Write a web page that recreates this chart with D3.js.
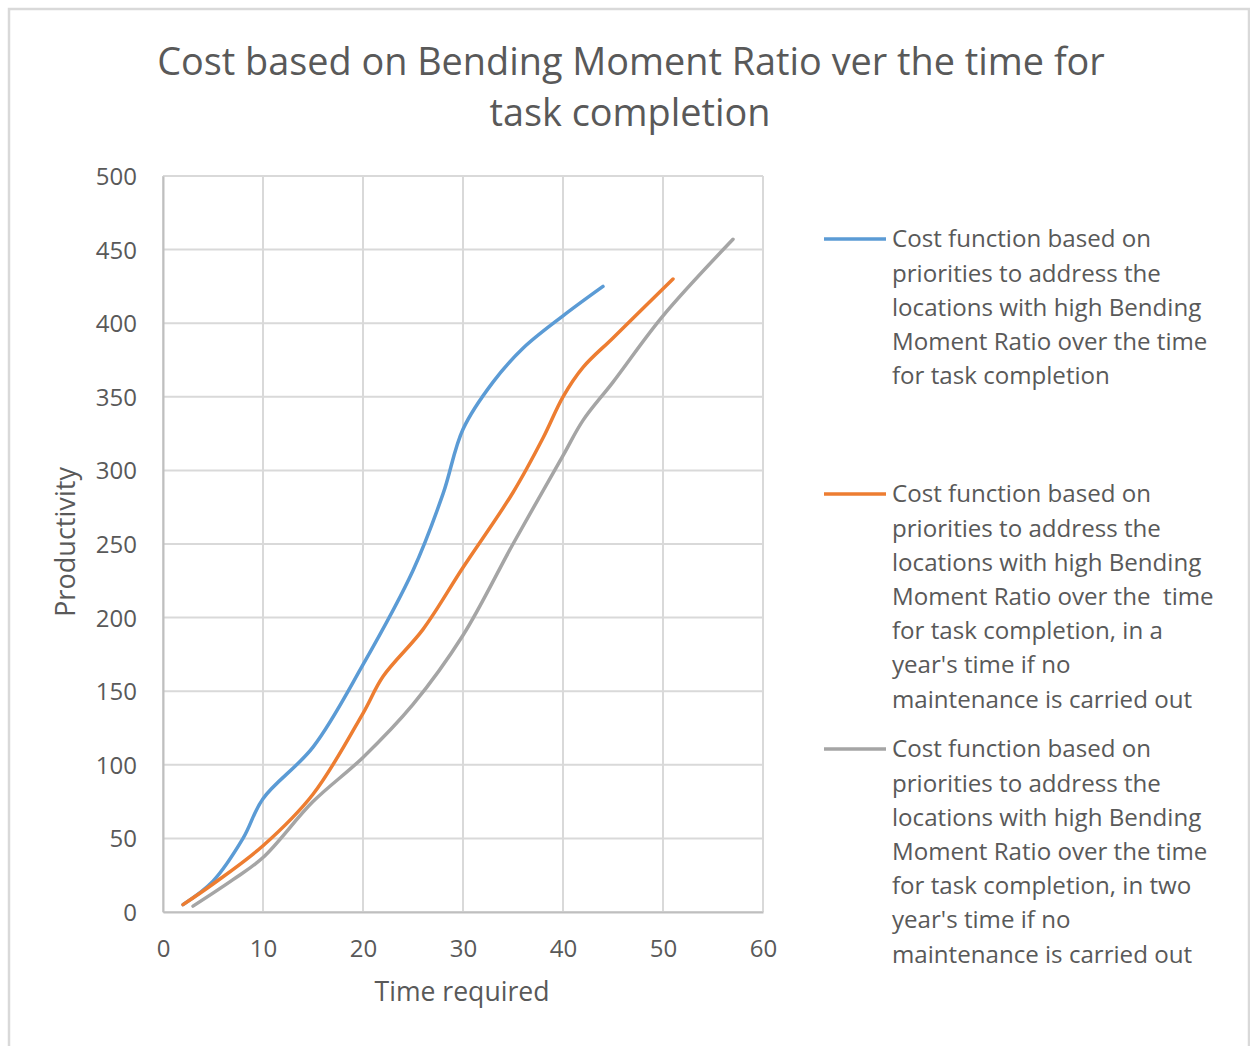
<!DOCTYPE html>
<html>
<head>
<meta charset="utf-8">
<script src="https://cdn.jsdelivr.net/npm/d3@7"></script>
<style>
  html, body { margin: 0; padding: 0; background: #fff; }
  svg { display: block; font-family: "Open Sans", "Noto Sans", sans-serif; }
</style>
</head>
<body>
<svg id="chart" width="1250" height="1046"></svg>
<script>
// Series: [time required, productivity]
const seriesNow = [
  [2, 5], [5, 21], [8, 50], [10, 77], [15, 112], [20, 168], [25, 232],
  [28, 284], [30, 328], [33, 360], [36, 383], [40, 405], [44, 425]
];
const seriesOneYear = [
  [2, 5], [5, 19], [10, 45], [15, 80], [20, 135], [22, 160], [26, 192],
  [30, 234], [35, 285], [38, 322], [40, 350], [42, 370], [45, 390], [51, 430]
];
const seriesTwoYears = [
  [3, 4], [7, 22], [10, 37], [15, 75], [20, 105], [25, 141], [30, 188],
  [35, 250], [40, 310], [42, 334], [45, 360], [50, 405], [57, 457]
];
const xTicks = [0, 10, 20, 30, 40, 50, 60];
const yTicks = [0, 50, 100, 150, 200, 250, 300, 350, 400, 450, 500];

const titleLines = ["Cost based on Bending Moment Ratio ver the time for", "task completion"];
const xTitle = "Time required";
const yTitle = "Productivity";

const legendEntries = [
  { lines: ["Cost function based on", "priorities to address the", "locations with high Bending",
            "Moment Ratio over the time", "for task completion"] },
  { lines: ["Cost function based on", "priorities to address the", "locations with high Bending",
            "Moment Ratio over the  time", "for task completion, in a", "year's time if no",
            "maintenance is carried out"] },
  { lines: ["Cost function based on", "priorities to address the", "locations with high Bending",
            "Moment Ratio over the time", "for task completion, in two", "year's time if no",
            "maintenance is carried out"] }
];

const seriesList = [seriesNow, seriesOneYear, seriesTwoYears];
const colors = ["#5b9bd5", "#ed7d31", "#a5a5a5"];
const textColor = "#595959";
const gridColor = "#d9d9d9";

const svg = d3.select("#chart");

// Outer chart frame (runs past the bottom and right edges)
svg.append("rect")
  .attr("x", 9).attr("y", 9).attr("width", 1240).attr("height", 1060)
  .attr("fill", "none").attr("stroke", "#d9d9d9").attr("stroke-width", 2.5);

const plot = { left: 163, right: 763, top: 176, bottom: 912 };
const x = d3.scaleLinear().domain([0, 60]).range([plot.left, plot.right]);
const y = d3.scaleLinear().domain([0, 500]).range([plot.bottom, plot.top]);

// Scale a text's font size so its rendered width equals target
function fitWidth(sel, target) {
  const node = sel.node();
  const fs = parseFloat(sel.attr("font-size"));
  const w = node.getComputedTextLength();
  const nf = fs * target / w;
  sel.attr("font-size", nf);
  return nf;
}

// Title
const t1 = svg.append("text").attr("x", 631).attr("y", 75)
  .attr("text-anchor", "middle").attr("fill", textColor).attr("font-size", 34)
  .text(titleLines[0]);
const titleSize = fitWidth(t1, 948);
svg.append("text").attr("x", 630).attr("y", 126)
  .attr("text-anchor", "middle").attr("fill", textColor).attr("font-size", titleSize)
  .text(titleLines[1]);

// Gridlines
const grid = svg.append("g");
grid.selectAll("line.h").data(yTicks).join("line")
  .attr("x1", plot.left).attr("x2", plot.right)
  .attr("y1", d => y(d)).attr("y2", d => y(d))
  .attr("stroke", gridColor).attr("stroke-width", 2);
grid.selectAll("line.v").data(xTicks).join("line")
  .attr("y1", plot.top).attr("y2", plot.bottom)
  .attr("x1", d => x(d)).attr("x2", d => x(d))
  .attr("stroke", gridColor).attr("stroke-width", 2);

// Axes
const xAxis = svg.append("g").attr("transform", `translate(0,${plot.bottom})`)
  .call(d3.axisBottom(x).tickValues(xTicks).tickSize(0).tickPadding(0));
xAxis.select(".domain").attr("stroke", "#bfbfbf").attr("stroke-width", 2);
xAxis.selectAll("text").attr("fill", textColor).attr("font-size", 24)
  .attr("font-family", "\"Open Sans\", sans-serif")
  .attr("dy", null).attr("y", 45);

const yAxis = svg.append("g").attr("transform", `translate(${plot.left},0)`)
  .call(d3.axisLeft(y).tickValues(yTicks).tickSize(0).tickPadding(26));
yAxis.select(".domain").attr("stroke", "#bfbfbf").attr("stroke-width", 2);
yAxis.selectAll("text").attr("fill", textColor).attr("font-size", 24)
  .attr("font-family", "\"Open Sans\", sans-serif")
  .attr("dy", "0.35em");

// Axis titles
const xt = svg.append("text").attr("x", 462).attr("y", 1001)
  .attr("text-anchor", "middle").attr("fill", textColor).attr("font-size", 25)
  .text(xTitle);
fitWidth(xt, 175);
const yt = svg.append("text")
  .attr("transform", "translate(75,542) rotate(-90)")
  .attr("text-anchor", "middle").attr("fill", textColor).attr("font-size", 25)
  .text(yTitle);
fitWidth(yt, 150);

// Series lines
const line = d3.line()
  .x(d => x(d[0])).y(d => y(d[1]))
  .curve(d3.curveCatmullRom.alpha(0.5));
svg.append("g").selectAll("path").data(seriesList).join("path")
  .attr("d", line)
  .attr("fill", "none")
  .attr("stroke", (d, i) => colors[i])
  .attr("stroke-width", 3.5)
  .attr("stroke-linecap", "round")
  .attr("stroke-linejoin", "round");

// Legend
const legendTop = [239, 494, 749];
const lineGap = 34.2;
const legend = svg.append("g");
let legendSize = null;
legendEntries.forEach((entry, i) => {
  const g = legend.append("g");
  g.append("line")
    .attr("x1", 824).attr("x2", 886)
    .attr("y1", legendTop[i]).attr("y2", legendTop[i])
    .attr("stroke", colors[i]).attr("stroke-width", 3.5);
  entry.lines.forEach((txt, j) => {
    const t = g.append("text")
      .attr("x", 892).attr("y", legendTop[i] + j * lineGap)
      .attr("dy", "0.35em")
      .attr("fill", textColor)
      .attr("font-size", legendSize || 24)
      .style("white-space", "pre")
      .text(txt);
    if (legendSize === null) legendSize = fitWidth(t, 259);
  });
});
</script>
</body>
</html>
